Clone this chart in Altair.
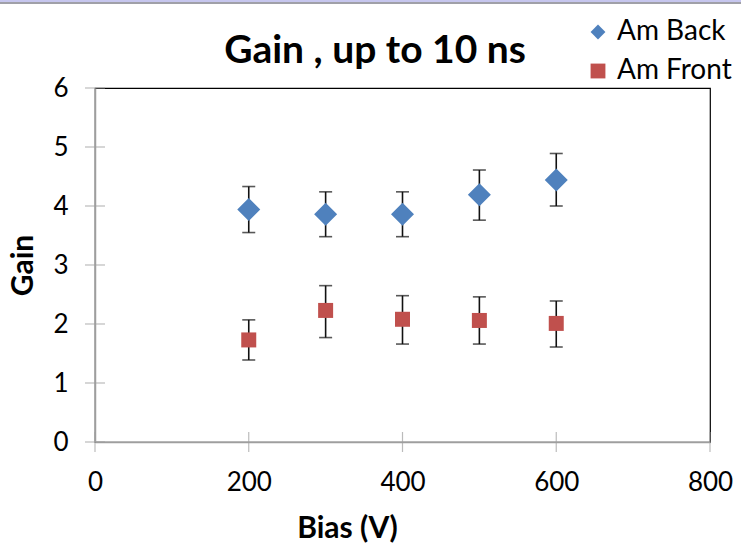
import altair as alt
import pandas as pd

# Measured gain vs. bias voltage with asymmetric error bars
bias = [200, 300, 400, 500, 600]
back_gain = [3.94, 3.86, 3.86, 4.19, 4.44]
back_lo = [3.55, 3.48, 3.48, 3.76, 4.00]
back_hi = [4.33, 4.24, 4.24, 4.61, 4.89]
front_gain = [1.73, 2.23, 2.08, 2.06, 2.01]
front_lo = [1.39, 1.77, 1.66, 1.66, 1.61]
front_hi = [2.07, 2.65, 2.48, 2.46, 2.39]

series_names = ["Am Back", "Am Front"]
series_colors = ["#4F81BD", "#C0504D"]
series_shapes = ["diamond", "square"]

x_ticks = [0, 200, 400, 600, 800]
y_ticks = [0, 1, 2, 3, 4, 5, 6]

rows = []
for name, g, lo, hi in [("Am Back", back_gain, back_lo, back_hi),
                        ("Am Front", front_gain, front_lo, front_hi)]:
    for b, v, l, h in zip(bias, g, lo, hi):
        rows.append({"series": name, "bias": b, "gain": v, "lo": l, "hi": h})
df = pd.DataFrame(rows)

FONT = "Lato"
W, H = 615, 354

xscale = alt.Scale(domain=[0, 800], nice=False, zero=True)
yscale = alt.Scale(domain=[0, 6], nice=False, zero=True)

x_axis = alt.Axis(title="Bias (V)", values=x_ticks, format="d", labelFlush=False,
                  titleX=252, titleY=95, titleBaseline="alphabetic")
y_axis = alt.Axis(title="Gain", values=y_ticks, format="d", labelFlush=False,
                  titleX=-63, titleY=177, titleBaseline="alphabetic")


def xq(field):
    return alt.X(field, type="quantitative", scale=xscale, axis=x_axis)


def yq(field):
    return alt.Y(field, type="quantitative", scale=yscale, axis=y_axis)


base = alt.Chart(df)

whisker = base.mark_rule(color="#111111", strokeWidth=1.6).encode(
    x=xq("bias"), y=yq("lo"), y2="hi:Q"
)
cap_lo = base.mark_tick(orient="horizontal", color="#111111", thickness=1.6, size=13).encode(
    x=xq("bias"), y=yq("lo")
)
cap_hi = base.mark_tick(orient="horizontal", color="#111111", thickness=1.6, size=13).encode(
    x=xq("bias"), y=yq("hi")
)

back_pts = alt.Chart(df[df.series == "Am Back"]).mark_point(
    shape="diamond", filled=True, opacity=1, size=529, color=series_colors[0]
).encode(x=xq("bias"), y=yq("gain"))

front_pts = alt.Chart(df[df.series == "Am Front"]).mark_point(
    shape="square", filled=True, opacity=1, size=225, color=series_colors[1]
).encode(x=xq("bias"), y=yq("gain"))

# Invisible layer carrying the legend
legend_layer = base.mark_point(filled=True, opacity=0).encode(
    x=xq("bias"),
    y=yq("gain"),
    color=alt.Color(
        "series:N",
        scale=alt.Scale(domain=series_names, range=series_colors),
        legend=alt.Legend(
            title=None, orient="none", legendX=489, legendY=-70,
            symbolOpacity=1, rowPadding=11, labelOffset=5,
        ),
    ),
    shape=alt.Shape(
        "series:N",
        scale=alt.Scale(domain=series_names, range=series_shapes),
        legend=None,
    ),
)

# Axis ticks crossing the axis lines
ytick_df = pd.DataFrame({"v": y_ticks, "z": [0] * len(y_ticks)})
xtick_df = pd.DataFrame({"v": x_ticks, "z": [0] * len(x_ticks)})
ycross = alt.Chart(ytick_df).mark_tick(orient="horizontal", color="#9e9e9e", size=20, thickness=1.2).encode(
    x=xq("z"), y=yq("v")
)
xcross = alt.Chart(xtick_df).mark_tick(orient="vertical", color="#9e9e9e", size=20, thickness=1.2).encode(
    x=xq("v"), y=yq("z")
)

one = pd.DataFrame({"t": ["Gain , up to 10 ns"]})

# Chart title
title_txt = alt.Chart(one).mark_text(
    font=FONT, fontSize=39, fontWeight="bold", color="#000000", baseline="alphabetic", align="center"
).encode(x=alt.value(280), y=alt.value(-25), text="t:N")

# Window frame band along the top edge
band1 = alt.Chart(one).mark_rule(color="#c6c6ee", strokeWidth=2).encode(
    x=alt.value(-95), x2=alt.value(646), y=alt.value(-87)
)
band2 = alt.Chart(one).mark_rule(color="#a0a0a8", strokeWidth=2).encode(
    x=alt.value(-95), x2=alt.value(646), y=alt.value(-85)
)

chart = (
    alt.layer(legend_layer, whisker, cap_lo, cap_hi, back_pts, front_pts, ycross, xcross,
              title_txt, band1, band2)
    .properties(
        width=W, height=H,
        padding={"left": 95, "top": 88, "right": 31, "bottom": 111},
        autosize=alt.AutoSizeParams(type="none"),
        background="#ffffff",
    )
    .configure_view(stroke="#000000", strokeWidth=1.2)
    .configure_axis(
        ticks=False, grid=False, domainColor="#9e9e9e", domainWidth=1.5,
        labelFont=FONT, labelFontSize=26, labelColor="#000000",
        titleFont=FONT, titleFontSize=30, titleFontWeight="bold", titleColor="#000000",
        zindex=1,
    )
    .configure_axisX(labelPadding=27)
    .configure_axisY(labelPadding=27)
    .configure_legend(
        labelFont=FONT, labelFontSize=28, labelColor="#000000",
        symbolSize=220, symbolStrokeWidth=0,
    )
)

chart.save("out.html", embed_options={"renderer": "svg", "actions": False})
